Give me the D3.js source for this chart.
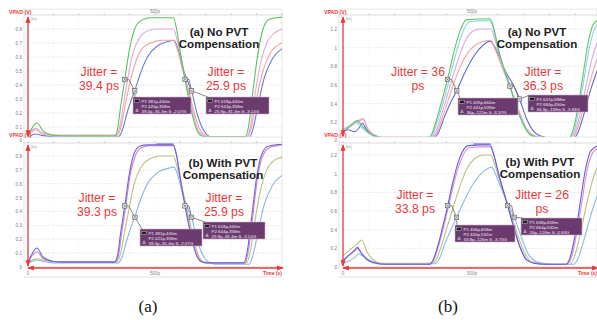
<!DOCTYPE html>
<html><head><meta charset="utf-8">
<script src="https://cdn.jsdelivr.net/npm/d3@7"></script>
<style>body{margin:0;background:#fff}svg{display:block}</style>
</head><body><svg id="c" width="597" height="320"></svg>
<script>
// ---------------- DATA (time in ps, voltage in V) ----------------
const yTicksLeft = [0,0.1,0.2,0.3,0.4,0.5,0.6,0.7,0.8];
const yTicksRight = [0,0.2,0.4,0.6,0.8,1,1.2];
const xTickLabels = ["0","500p"];

// (a) left, top: No PVT Compensation
const tlGreen = [[0,0.03],[12,0.08],[35,0.13],[60,0.07],[100,0.04],[140,0.035],[340,0.035],[352,0.08],[365,0.25],[381,0.44],[400,0.66],[420,0.8],[445,0.86],[480,0.88],[572,0.88],[585,0.8],[600,0.63],[618,0.44],[640,0.24],[660,0.1],[680,0.04],[700,0.03],[855,0.03],[868,0.1],[885,0.35],[905,0.62],[925,0.8],[950,0.87],[1000,0.885]];
const tlPink = [[0,0.04],[12,0.07],[30,0.09],[55,0.06],[100,0.04],[345,0.04],[358,0.08],[375,0.25],[392,0.44],[412,0.62],[440,0.74],[475,0.79],[510,0.8],[572,0.8],[590,0.7],[605,0.58],[622,0.42],[645,0.24],[665,0.1],[690,0.04],[710,0.03],[860,0.03],[875,0.1],[895,0.35],[915,0.55],[940,0.7],[970,0.77],[1000,0.8]];
const tlSalmon = [[0,0.035],[12,0.06],[30,0.08],[55,0.05],[100,0.04],[350,0.04],[363,0.08],[382,0.25],[402,0.42],[425,0.57],[455,0.67],[500,0.71],[530,0.72],[572,0.72],[590,0.64],[610,0.5],[630,0.38],[650,0.23],[675,0.09],[700,0.04],[720,0.03],[865,0.03],[880,0.1],[900,0.3],[925,0.5],[955,0.63],[1000,0.7]];
const tlBlue = [[0,0.025],[12,0.04],[30,0.05],[55,0.04],[100,0.03],[355,0.03],[370,0.07],[390,0.2],[408,0.3],[420,0.358],[440,0.47],[470,0.6],[510,0.68],[560,0.715],[575,0.72],[590,0.66],[610,0.52],[630,0.42],[644,0.358],[665,0.2],[690,0.08],[715,0.03],[735,0.02],[870,0.02],[885,0.08],[905,0.25],[930,0.45],[960,0.58],[1000,0.66]];

// (a) left, bottom: With PVT Compensation
const blPurple = [[0,0.03],[12,0.08],[35,0.137],[60,0.07],[100,0.04],[140,0.035],[340,0.035],[352,0.08],[365,0.25],[381,0.44],[398,0.66],[418,0.82],[440,0.87],[470,0.88],[572,0.88],[585,0.8],[600,0.63],[618,0.44],[640,0.24],[660,0.1],[680,0.04],[700,0.03],[850,0.03],[862,0.1],[880,0.35],[898,0.62],[918,0.8],[945,0.87],[1000,0.885]];
const blMagenta = [[0,0.035],[12,0.07],[35,0.11],[60,0.06],[100,0.04],[345,0.04],[356,0.08],[369,0.25],[385,0.44],[402,0.66],[422,0.8],[445,0.86],[480,0.875],[572,0.875],[586,0.8],[602,0.62],[620,0.44],[642,0.24],[662,0.1],[684,0.04],[705,0.03],[855,0.03],[866,0.1],[884,0.35],[902,0.62],[922,0.79],[950,0.86],[1000,0.88]];
const blOlive = [[0,0.04],[15,0.05],[35,0.06],[60,0.05],[100,0.04],[350,0.04],[362,0.08],[380,0.25],[398,0.42],[418,0.6],[445,0.72],[480,0.78],[520,0.8],[572,0.8],[590,0.7],[608,0.56],[628,0.4],[650,0.22],[672,0.08],[695,0.035],[715,0.03],[860,0.03],[874,0.1],[894,0.34],[915,0.55],[940,0.7],[970,0.77],[1000,0.79]];
const blLightBlue = [[0,0.03],[15,0.04],[35,0.05],[60,0.04],[100,0.03],[355,0.03],[370,0.07],[390,0.2],[408,0.3],[420,0.358],[440,0.47],[470,0.6],[510,0.68],[560,0.715],[575,0.72],[590,0.66],[610,0.52],[630,0.42],[644,0.358],[665,0.2],[690,0.08],[715,0.03],[735,0.02],[870,0.02],[885,0.08],[905,0.25],[930,0.45],[960,0.58],[1000,0.66]];

// (b) right, top: No PVT Compensation
const trGreen = [[0,0.1],[20,0.14],[55,0.22],[75,0.16],[100,0.09],[130,0.05],[160,0.035],[330,0.035],[345,0.08],[365,0.25],[385,0.45],[405,0.66],[425,0.9],[450,1.15],[480,1.3],[570,1.31],[585,1.2],[605,0.95],[625,0.76],[647,0.588],[670,0.38],[695,0.2],[720,0.08],[750,0.04],[780,0.03],[875,0.03],[890,0.1],[910,0.35],[930,0.7],[950,1.05],[970,1.25],[1000,1.31]];
const trCyan = [[0,0.12],[20,0.15],[50,0.2],[70,0.15],[100,0.08],[130,0.05],[160,0.035],[335,0.035],[350,0.08],[370,0.25],[392,0.45],[412,0.66],[432,0.88],[458,1.12],[490,1.28],[570,1.29],[585,1.18],[605,0.95],[627,0.76],[650,0.57],[673,0.37],[698,0.19],[725,0.07],[755,0.04],[785,0.03],[880,0.03],[895,0.1],[915,0.35],[935,0.68],[955,1.0],[975,1.2],[1000,1.28]];
const trPink = [[0,0.13],[25,0.16],[60,0.22],[78,0.24],[95,0.14],[120,0.07],[150,0.04],[340,0.04],[356,0.08],[378,0.25],[400,0.45],[420,0.64],[445,0.86],[470,1.05],[500,1.17],[530,1.2],[572,1.2],[590,1.08],[610,0.88],[632,0.7],[655,0.52],[680,0.33],[705,0.16],[735,0.06],[765,0.04],[795,0.03],[885,0.03],[900,0.1],[922,0.33],[945,0.63],[965,0.88],[985,1.05],[1000,1.13]];
const trSalmon = [[0,0.12],[25,0.15],[55,0.2],[78,0.23],[95,0.13],[120,0.06],[150,0.04],[345,0.04],[362,0.08],[385,0.25],[408,0.44],[430,0.62],[455,0.8],[485,0.95],[520,1.04],[550,1.07],[572,1.08],[590,0.98],[612,0.82],[635,0.66],[660,0.48],[685,0.3],[710,0.14],[740,0.06],[770,0.04],[800,0.03],[890,0.03],[905,0.1],[928,0.32],[952,0.58],[975,0.8],[1000,0.97]];
const trBlue = [[0,0.1],[20,0.12],[45,0.1],[65,0.15],[75,0.19],[90,0.13],[115,0.06],[150,0.035],[350,0.035],[368,0.08],[392,0.25],[415,0.4],[441,0.539],[470,0.72],[505,0.9],[540,1.02],[570,1.07],[590,1.0],[612,0.86],[635,0.72],[660,0.6],[684,0.45],[710,0.25],[740,0.1],[770,0.05],[810,0.03],[895,0.03],[912,0.1],[935,0.3],[960,0.55],[985,0.75],[1000,0.86]];

// (b) right, bottom: With PVT Compensation
const brPurple = [[0,0.06],[20,0.12],[45,0.18],[55,0.21],[70,0.15],[95,0.08],[130,0.04],[160,0.03],[335,0.03],[350,0.08],[370,0.25],[388,0.45],[406,0.658],[425,0.9],[450,1.15],[485,1.3],[570,1.31],[585,1.2],[603,1.0],[620,0.83],[638,0.658],[660,0.44],[685,0.22],[710,0.08],[740,0.04],[780,0.03],[865,0.03],[880,0.1],[900,0.35],[920,0.7],[940,1.05],[962,1.25],[1000,1.31]];
const brMagenta = [[0,0.08],[20,0.12],[45,0.17],[58,0.2],[72,0.15],[95,0.08],[130,0.04],[160,0.03],[338,0.03],[353,0.08],[373,0.25],[392,0.45],[410,0.66],[430,0.9],[455,1.13],[490,1.28],[570,1.29],[586,1.18],[605,0.98],[622,0.82],[640,0.65],[662,0.43],[687,0.21],[712,0.08],[742,0.04],[785,0.03],[870,0.03],[885,0.1],[905,0.35],[925,0.68],[945,1.02],[967,1.22],[1000,1.29]];
const brOlive = [[0,0.12],[25,0.18],[55,0.25],[73,0.29],[90,0.18],[115,0.08],[150,0.04],[345,0.04],[362,0.08],[384,0.25],[405,0.44],[425,0.62],[450,0.84],[480,1.05],[515,1.17],[545,1.2],[572,1.2],[590,1.08],[610,0.9],[630,0.74],[652,0.56],[676,0.35],[702,0.16],[730,0.06],[760,0.04],[800,0.03],[880,0.03],[896,0.1],[918,0.33],[940,0.62],[962,0.88],[985,1.06],[1000,1.13]];
const brLightBlue = [[0,0.04],[20,0.06],[45,0.1],[60,0.14],[75,0.12],[100,0.06],[130,0.035],[355,0.035],[372,0.08],[395,0.25],[418,0.4],[440,0.532],[468,0.7],[500,0.87],[535,1.0],[565,1.06],[575,1.07],[592,0.99],[612,0.85],[635,0.7],[664,0.532],[690,0.33],[718,0.14],[748,0.06],[780,0.04],[820,0.03],[895,0.03],[912,0.1],[935,0.3],[960,0.55],[985,0.76],[1000,0.86]];

// cursor markers (P1 rise, P2 rise, P1 fall, P2 fall)
const tlMarkers = [[381,0.44],[420,0.358],[618,0.44],[644,0.358]];
const blMarkers = [[381,0.44],[421,0.358],[618,0.44],[644,0.358]];
const trMarkers = [[405,0.66],[441,0.539],[647,0.588],[684,0.45]];
const brMarkers = [[406,0.658],[440,0.532],[638,0.658],[664,0.532]];

// cursor readout boxes
const tlBoxes = [["P1 381p,440m","P2 420p,358m","39.4p,-81.3m S -2.07G"],["P1 618p,440m","P2 644p,358m","25.9p,-81.3m S -3.14G"]];
const blBoxes = [["P1 381p,440m","P2 421p,358m","39.3p,-81.4m S -2.07G"],["P1 618p,440m","P2 644p,358m","25.9p,-81.4m S -3.14G"]];
const trBoxes = [["P1 405p,660m","P2 441p,539m","36p,-121m S -3.37G"],["P1 647p,588m","P2 684p,450m","36.3p,-139m S -3.83G"]];
const brBoxes = [["P1 406p,658m","P2 440p,532m","33.8p,-126m S -3.73G"],["P1 638p,658m","P2 664p,532m","26p,-126m S -4.84G"]];

// annotation texts
const tlJitter = [["Jitter =","39.4 ps"],["Jitter =","25.9 ps"]];
const blJitter = [["Jitter =","39.3 ps"],["Jitter =","25.9 ps"]];
const trJitter = [["Jitter = 36","ps"],["Jitter =","36.3 ps"]];
const brJitter = [["Jitter =","33.8 ps"],["Jitter = 26","ps"]];
const titleTop = ["(a) No PVT","Compensation"];
const titleBottom = ["(b) With PVT","Compensation"];
const captions = ["(a)","(b)"];

// ---------------- DRAWING ----------------
const svg = d3.select("#c");
const RED = "#e8393b";
const defs = svg.append("defs");
defs.append("marker").attr("id","ah").attr("viewBox","0 0 10 10").attr("refX",9).attr("refY",5)
  .attr("markerWidth",5).attr("markerHeight",5).attr("orient","auto-start-reverse")
  .append("path").attr("d","M0,1 L10,5 L0,9 Z").attr("fill",RED);

function panel(cfg){
  const g = svg.append("g");
  const x = d3.scaleLinear().domain([0,1000]).range([cfg.x0, cfg.x0 + cfg.pxPer1000]);
  const y = d3.scaleLinear().domain([0, cfg.vmax]).range([cfg.yZero, cfg.yMax]);
  const clipId = "clip"+cfg.id;
  defs.append("clipPath").attr("id",clipId).append("rect")
    .attr("x",cfg.x0).attr("y",cfg.top+1).attr("width",cfg.right-cfg.x0).attr("height",cfg.bottom-cfg.top);

  // frame
  g.append("rect").attr("x",cfg.frameL).attr("y",cfg.top-6).attr("width",cfg.right-cfg.frameL).attr("height",cfg.bottom-cfg.top+6)
    .attr("fill","#fff").attr("stroke","#e2e2e2").attr("stroke-width",0.8);
  // header bar
  g.append("line").attr("x1",cfg.frameL).attr("x2",cfg.right).attr("y1",cfg.top).attr("y2",cfg.top)
    .attr("stroke","#cfcfcf").attr("stroke-width",0.8);
  const tks = d3.range(0,1001,100);
  g.selectAll(".htk").data(tks).join("line").attr("x1",d=>x(d)).attr("x2",d=>x(d))
    .attr("y1",cfg.top-1.8).attr("y2",cfg.top).attr("stroke","#aaa").attr("stroke-width",0.6);
  if (cfg.header500) g.append("text").attr("x",x(500)).attr("y",cfg.top-2.5).attr("text-anchor","middle")
    .attr("font-size",4.6).attr("fill","#888").attr("font-family","Liberation Sans, Arial").text("500p");
  if (cfg.tab) g.append("rect").attr("x",x(505)).attr("y",cfg.top).attr("width",17).attr("height",2.2).attr("fill","#9aa6d8");
  g.append("text").attr("x",cfg.frameL-cfg.vpadOff).attr("y",cfg.top-cfg.vpadDy).attr("font-size",5.2).attr("font-weight","bold")
    .attr("fill",RED).attr("font-family","Liberation Sans, Arial").text("VPAD (V)");
  g.append("text").attr("x",cfg.x0+3).attr("y",cfg.top+4.5).attr("font-size",4).attr("fill","#999")
    .attr("font-family","Liberation Sans, Arial").text("(m)");

  // grid
  g.selectAll(".hg").data(cfg.yTicks).join("line").attr("x1",cfg.x0).attr("x2",cfg.right)
    .attr("y1",d=>y(d)).attr("y2",d=>y(d)).attr("stroke","#c8c8c8").attr("stroke-width",0.6).attr("stroke-dasharray","1,1.5");
  g.selectAll(".vg").data(tks.slice(1)).join("line").attr("x1",d=>x(d)).attr("x2",d=>x(d))
    .attr("y1",cfg.top+1).attr("y2",cfg.bottom).attr("stroke","#e4e4e4").attr("stroke-width",0.5).attr("stroke-dasharray","1,2");

  // y tick labels via axis
  const ax = g.append("g").attr("transform",`translate(${cfg.x0-3},0)`)
    .call(d3.axisLeft(y).tickValues(cfg.yTicks).tickSize(0).tickFormat(d=> d===0 ? "0" : d3.format("~g")(d)));
  ax.select(".domain").remove();
  ax.selectAll("text").attr("font-size",4.6).attr("fill","#777").attr("font-family","Liberation Sans, Arial");
  ax.selectAll(".tick").filter(d=>d===0).select("text").attr("dy", cfg.zeroDy);

  // curves
  const line = d3.line().x(d=>x(d[0])).y(d=>y(d[1])).curve(d3.curveMonotoneX);
  const cg = g.append("g").attr("clip-path",`url(#${clipId})`);
  cfg.curves.forEach(([data,col])=>{
    cg.append("path").datum(data).attr("d",line).attr("fill","none").attr("stroke",col).attr("stroke-width",1.1);
  });

  // red y axis arrow
  g.append("line").attr("x1",cfg.x0).attr("x2",cfg.x0).attr("y1",cfg.top+2).attr("y2",cfg.arrowBottom)
    .attr("stroke",RED).attr("stroke-width",1.3).attr("marker-start","url(#ah)").attr("marker-end","url(#ah)");
  if (cfg.xAxis){
    g.append("line").attr("x1",cfg.x0).attr("x2",cfg.right+1).attr("y1",cfg.yZero+1).attr("y2",cfg.yZero+1)
      .attr("stroke",RED).attr("stroke-width",1.3).attr("marker-start","url(#ah)").attr("marker-end","url(#ah)");
    g.append("line").attr("x1",cfg.frameL).attr("x2",cfg.right).attr("y1",cfg.yZero+10).attr("y2",cfg.yZero+10)
      .attr("stroke","#d8d8d8").attr("stroke-width",0.8);
    g.selectAll(".xl").data(xTickLabels).join("text").attr("x",(d,i)=>x(i*500)).attr("y",cfg.yZero+7.5)
      .attr("text-anchor","middle").attr("font-size",4.6).attr("fill","#888").attr("font-family","Liberation Sans, Arial").text(d=>d);
    g.append("text").attr("x",cfg.right).attr("y",cfg.yZero+7.5).attr("text-anchor","end").attr("font-size",5)
      .attr("font-weight","bold").attr("fill",RED).attr("font-family","Liberation Sans, Arial").text("Time (s)");
  }

  // markers + connectors
  const mk = cfg.markers.map(d=>[x(d[0]), y(d[1])]);
  cfg.boxPos.forEach((bp,i)=>{
    const p1 = mk[i*2], p2 = mk[i*2+1];
    g.append("polyline").attr("points",[p1,[p1[0]+4,p1[1]],p2,[bp[0]+2,bp[1]]].map(p=>p.join(",")).join(" "))
      .attr("fill","none").attr("stroke","#555").attr("stroke-width",0.7);
  });
  mk.forEach(p=>{
    g.append("rect").attr("x",p[0]-2.2).attr("y",p[1]-2.2).attr("width",4.4).attr("height",4.4)
      .attr("fill","#eee").attr("stroke","#555").attr("stroke-width",0.6);
    g.append("path").attr("d",`M${p[0]-1.5},${p[1]-1.5}L${p[0]+1.5},${p[1]+1.5}M${p[0]+1.5},${p[1]-1.5}L${p[0]-1.5},${p[1]+1.5}`)
      .attr("stroke","#444").attr("stroke-width",0.5);
  });

  // readout boxes
  cfg.boxes.forEach((lines,i)=>{
    const [bx,by,bw] = cfg.boxPos[i];
    const bg = g.append("g");
    bg.append("rect").attr("x",bx).attr("y",by).attr("width",bw).attr("height",17)
      .attr("fill","#6b3a6e").attr("stroke","#c9b3cb").attr("stroke-width",0.6);
    bg.append("rect").attr("x",bx+1.8).attr("y",by+2.3).attr("width",4.5).attr("height",3)
      .attr("fill","#222").attr("stroke","#ddd").attr("stroke-width",0.4);
    bg.append("text").attr("x",bx+2.5).attr("y",by+15).attr("font-size",4.4).attr("fill","#eee")
      .attr("font-family","DejaVu Sans").text("\u0394");
    bg.selectAll(".bt").data(lines).join("text").attr("x",bx+8.5).attr("y",(d,j)=>by+5.6+j*5)
      .attr("font-size",4.4).attr("fill","#f2eaf2").attr("font-family","Liberation Sans, Arial").text(d=>d);
  });

  // jitter labels
  cfg.jitter.forEach((pair,i)=>{
    const [cx,by] = cfg.jitterPos[i];
    pair.forEach((t,j)=>{
      g.append("text").attr("x",cx).attr("y",by+j*13.5).attr("text-anchor","middle").attr("font-size",12.2)
        .attr("fill",RED).attr("font-family","Liberation Sans, Arial").text(t);
    });
  });
  // title
  cfg.title.forEach((t,j)=>{
    g.append("text").attr("x",cfg.titlePos[0]).attr("y",cfg.titlePos[1]+j*12.3).attr("text-anchor","middle")
      .attr("font-size",11.6).attr("font-weight","bold").attr("fill","#222").attr("font-family","Liberation Sans, Arial").text(t);
  });
}

const L = {x0:28, pxPer1000:254, frameL:24, right:282, vpadOff:15, vmax:0.8, yTicks:yTicksLeft};
const R = {x0:343, pxPer1000:258, frameL:339, right:597, vpadOff:15, vmax:1.2, yTicks:yTicksRight};

panel(Object.assign({},L,{id:"TL", top:15, bottom:139, yZero:141, yMax:29, arrowBottom:136, header500:true, tab:false, xAxis:false, vpadDy:1.5, zeroDy:"0.2em",
  curves:[[tlBlue,"#6c7fd6"],[tlSalmon,"#f3a2a0"],[tlPink,"#e2a8dc"],[tlGreen,"#5cc25c"]],
  markers:tlMarkers, boxes:tlBoxes, boxPos:[[133,97,58],[206,97,63]],
  jitter:tlJitter, jitterPos:[[99,76],[226,76]], title:titleTop, titlePos:[219,36]}));
panel(Object.assign({},L,{id:"BL", top:143, bottom:267, yZero:267, yMax:156, arrowBottom:266, header500:false, tab:true, xAxis:true, vpadDy:6.2, zeroDy:"0.32em",
  curves:[[blLightBlue,"#86b6e8"],[blOlive,"#b9c47c"],[blMagenta,"#d67fd2"],[blPurple,"#6a68de"]],
  markers:blMarkers, boxes:blBoxes, boxPos:[[140,229,62],[203,222,62]],
  jitter:blJitter, jitterPos:[[97,202],[224,202]], title:titleBottom, titlePos:[223,167]}));
panel(Object.assign({},R,{id:"TR", top:15, bottom:139, yZero:141, yMax:29, arrowBottom:136, header500:true, tab:false, xAxis:false, vpadDy:1.5, zeroDy:"0.2em",
  curves:[[trBlue,"#5e6acc"],[trSalmon,"#f3a6a4"],[trPink,"#e2a8dc"],[trCyan,"#8ad4ec"],[trGreen,"#62c462"]],
  markers:trMarkers, boxes:trBoxes, boxPos:[[458,98,60],[528,95,60]],
  jitter:trJitter, jitterPos:[[418,76],[543,76]], title:titleTop, titlePos:[537,36]}));
panel(Object.assign({},R,{id:"BR", top:143, bottom:267, yZero:267, yMax:155, arrowBottom:266, header500:false, tab:true, xAxis:true, vpadDy:6.2, zeroDy:"0.32em",
  curves:[[brLightBlue,"#88bce8"],[brOlive,"#b8c47e"],[brMagenta,"#dc8ed6"],[brPurple,"#5e5ee0"]],
  markers:brMarkers, boxes:brBoxes, boxPos:[[455,225,60],[521,218,61]],
  jitter:brJitter, jitterPos:[[415,199],[542,199]], title:titleBottom, titlePos:[540,166]}));

svg.selectAll(".cap").data(captions).join("text").attr("x",(d,i)=>i?448:148).attr("y",312).attr("text-anchor","middle")
  .attr("font-size",17).attr("font-family","Liberation Serif, Times New Roman, serif").attr("fill","#111").text(d=>d);
</script></body></html>
